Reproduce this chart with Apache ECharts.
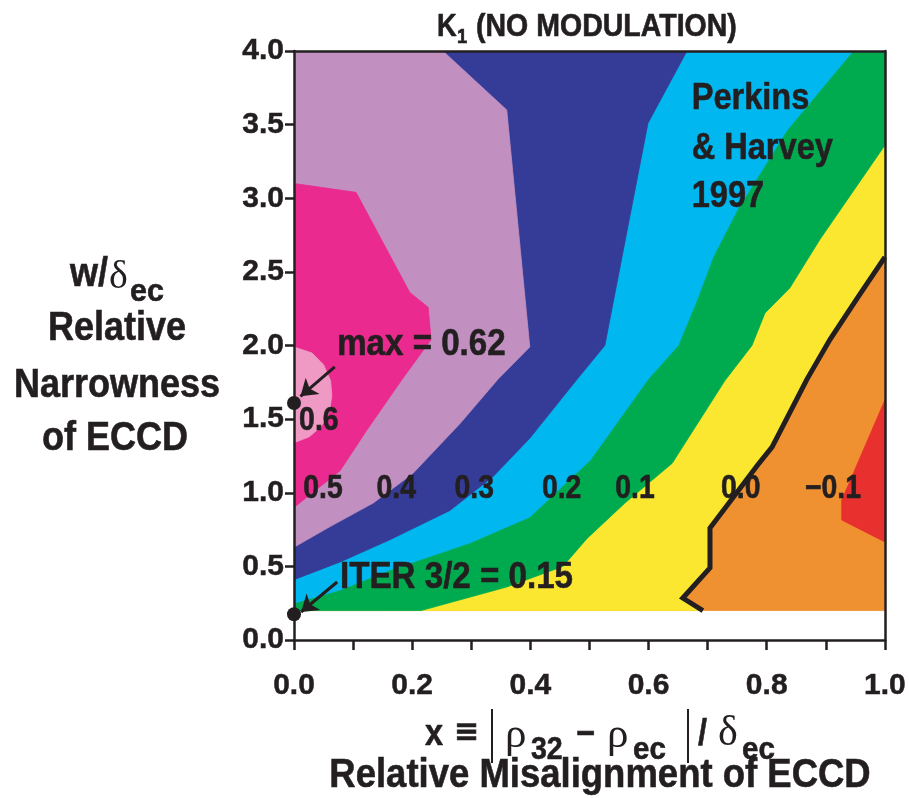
<!DOCTYPE html>
<html>
<head>
<meta charset="utf-8">
<title>K1 (NO MODULATION)</title>
<script src="https://cdn.jsdelivr.net/npm/echarts/dist/echarts.min.js"></script>
<style>
  html, body { margin: 0; padding: 0; background: #ffffff; }
  #chart { width: 909px; height: 798px; }
</style>
</head>
<body>
<div id="chart"></div>
<script>
// ---- K1 contour data: x = misalignment, y = w/δec ----
const levels = [-0.1, 0.0, 0.1, 0.2, 0.3, 0.4, 0.5, 0.6];
const xTicks = [0.0, 0.2, 0.4, 0.6, 0.8, 1.0];
const yTicks = [0.0, 0.5, 1.0, 1.5, 2.0, 2.5, 3.0, 3.5, 4.0];
const yFloor = 0.2;               // lowest w/δec computed

// level curves, each running from the upper/right boundary to the lower/left one
const contourM01 = [[1.0, 1.63], [0.927, 0.95], [0.927, 0.815], [1.0, 0.666]];
const contour00 = [[1.0, 2.60], [0.953, 2.32], [0.907, 2.04], [0.868, 1.77], [0.809, 1.31], [0.785, 1.19],
                   [0.704, 0.76], [0.704, 0.49], [0.658, 0.285], [0.692, 0.2]];
const contour01 = [[1.0, 3.36], [0.89, 2.72], [0.839, 2.39], [0.797, 2.22], [0.775, 2.0], [0.729, 1.76],
                   [0.64, 1.2], [0.56, 0.93], [0.496, 0.69], [0.455, 0.5], [0.36, 0.36], [0.215, 0.2]];
const contour02 = [[0.946, 4.0], [0.834, 3.46], [0.75, 2.92], [0.709, 2.6], [0.682, 2.31], [0.65, 2.0],
                   [0.599, 1.77], [0.501, 1.22], [0.399, 0.835], [0.298, 0.66], [0.162, 0.475], [0.078, 0.34], [0.0, 0.25]];
const contour03 = [[0.665, 4.0], [0.599, 3.51], [0.526, 2.0], [0.479, 1.77], [0.399, 1.37], [0.337, 1.11],
                   [0.264, 0.88], [0.162, 0.68], [0.078, 0.53], [0.0, 0.41]];
const contour04 = [[0.252, 4.0], [0.36, 3.6], [0.399, 1.99], [0.345, 1.77], [0.281, 1.47], [0.201, 1.13],
                   [0.134, 0.93], [0.061, 0.77], [0.0, 0.63]];
const contour05 = [[0.0, 3.10], [0.105, 3.04], [0.196, 2.36], [0.227, 2.26], [0.232, 2.04], [0.183, 1.77],
                   [0.124, 1.43], [0.078, 1.15], [0.0, 0.90]];
const contour06 = [[0.0, 1.99], [0.03, 1.95], [0.05, 1.87], [0.062, 1.76], [0.064, 1.66], [0.06, 1.55],
                   [0.046, 1.45], [0.026, 1.38], [0.0, 1.34]];

// where each level's number is printed (same order as labelLevels)
const labelLevels = [0.6, 0.5, 0.4, 0.3, 0.2, 0.1, 0.0, -0.1];
const labelAt = [[0.042, 1.49], [0.049, 1.025], [0.173, 1.025], [0.305, 1.025], [0.453, 1.025],
                 [0.577, 1.025], [0.756, 1.025], [0.912, 1.025]];

// marked cases
const maxK = 0.62, maxPoint = [0.0, 1.61];
const iterK = 0.15, iterPoint = [0.0, 0.175];
const maxArrow = [[0.069, 1.855], [0.011, 1.655]];
const iterArrow = [[0.073, 0.394], [0.012, 0.19]];

// ---- styling ----
const INK = '#231f20';
const FONT = "'Liberation Sans', Arial, Helvetica, sans-serif";
const SERIF = "'Liberation Serif', 'DejaVu Serif', serif";
const colors = {
  red: '#e8302f', orange: '#ef9130', yellow: '#fbe72f', green: '#00ab4f',
  cyan: '#00b8ef', blue: '#353c97', lilac: '#c190c1', magenta: '#ea2a8f', pink: '#ef99c5'
};

const X0 = 0, X1 = 1, Y1 = 4;
// filled bands, painted low to high: each polygon is the region where K is at least its level
const regions = [
  { color: colors.orange, pts: [[X0, yFloor], [X1, yFloor], [X1, Y1], [X0, Y1]] },
  { color: colors.red, pts: contourM01 },
  { color: colors.yellow, pts: contour00.concat([[X0, yFloor], [X0, Y1], [X1, Y1]]) },
  { color: colors.green, pts: contour01.concat([[X0, yFloor], [X0, Y1], [X1, Y1]]) },
  { color: colors.cyan, pts: contour02.concat([[X0, Y1]]) },
  { color: colors.blue, pts: contour03.concat([[X0, Y1]]) },
  { color: colors.lilac, pts: contour04.concat([[X0, Y1]]) },
  { color: colors.magenta, pts: contour05 },
  { color: colors.pink, pts: contour06 }
];

function fmtLevel(v) {
  return (v < 0 ? '\u2212' : '') + Math.abs(v).toFixed(1);
}

// texts placed in data space
const plotTexts = labelLevels.map((lv, i) => ({
  text: fmtLevel(lv), at: labelAt[i], size: 33, sx: 0.86, align: 'center'
})).concat([
  { text: 'max = ' + maxK.toFixed(2), at: [0.073, 2.0], size: 36, sx: 0.92, align: 'left' },
  { text: 'ITER 3/2 = ' + iterK.toFixed(2), at: [0.078, 0.42], size: 36, sx: 0.92, align: 'left' },
  { text: 'Perkins', at: [0.673, 3.674], size: 37, sx: 0.88, align: 'left' },
  { text: '& Harvey', at: [0.673, 3.334], size: 37, sx: 0.88, align: 'left' },
  { text: '1997', at: [0.673, 3.008], size: 37, sx: 0.88, align: 'left' }
]);

// slight outline gives the heavy condensed look of the lettering
const HEAVY = 0.6;

function txt(x, y, text, opts) {
  opts = opts || {};
  const size = opts.size || 36;
  const weight = opts.weight || 'bold';
  const family = opts.family || FONT;
  const align = opts.align || 'left';
  const heavy = weight === 'bold' ? HEAVY : 0;
  return {
    type: 'text', x: x, y: y, scaleX: opts.sx || 1, scaleY: 1, z: 100,
    style: {
      text: text, x: 0, y: 0,
      font: weight + ' ' + size + 'px ' + family,
      fill: INK, stroke: heavy ? INK : null, lineWidth: heavy,
      align: align, textAlign: align,
      verticalAlign: 'middle', textVerticalAlign: 'middle'
    }
  };
}

// page-level titles
const graphics = [
  // title
  txt(437, 27, 'K', { size: 31, sx: 0.88 }),
  txt(457, 37, '1', { size: 21, sx: 0.88 }),
  txt(476, 27, '(NO MODULATION)', { size: 31, sx: 0.92 }),
  // y-axis title
  txt(70, 275, 'w/', { size: 40, sx: 0.9 }),
  txt(109, 277, '\u03b4', { size: 40, weight: 'normal', family: SERIF }),
  txt(130, 292, 'ec', { size: 32, sx: 0.95 }),
  txt(117, 329, 'Relative', { size: 40, sx: 0.9, align: 'center' }),
  txt(117, 386, 'Narrowness', { size: 40, sx: 0.9, align: 'center' }),
  txt(115, 439, 'of ECCD', { size: 40, sx: 0.9, align: 'center' }),
  // x-axis title, formula line
  txt(425, 735, 'x', { size: 36, sx: 0.9 }),
  txt(454, 733, '\u2261', { size: 30, family: "'DejaVu Sans', " + FONT }),
  txt(505, 736, '\u03c1', { size: 43, weight: 'normal', family: SERIF }),
  txt(531, 750, '32', { size: 31, sx: 0.92 }),
  txt(576, 735, '\u2212', { size: 36, sx: 0.9 }),
  txt(607, 736, '\u03c1', { size: 43, weight: 'normal', family: SERIF }),
  txt(633, 750, 'ec', { size: 31, sx: 0.95 }),
  txt(698, 735, '/', { size: 36, sx: 0.9 }),
  txt(718, 734, '\u03b4', { size: 42, weight: 'normal', family: SERIF }),
  txt(742, 750, 'ec', { size: 31, sx: 0.95 }),
  { type: 'line', z: 100, shape: { x1: 492, y1: 709, x2: 492, y2: 763 }, style: { stroke: INK, lineWidth: 2 } },
  { type: 'line', z: 100, shape: { x1: 688, y1: 709, x2: 688, y2: 763 }, style: { stroke: INK, lineWidth: 2 } },
  // x-axis title, second line
  txt(600, 776, 'Relative Misalignment of ECCD', { size: 41, sx: 0.89, align: 'center' })
];

const axisLineStyle = { color: INK, width: 2.5 };
const labelFont = { color: INK, fontFamily: FONT, fontWeight: 'bold', fontSize: 30,
                    textBorderColor: INK, textBorderWidth: 0.5 };

const option = {
  animation: false,
  backgroundColor: '#ffffff',
  grid: { left: 294, top: 51, width: 591, height: 589, show: false, containLabel: false },
  xAxis: [
    {
      type: 'value', min: X0, max: X1, interval: 0.1, position: 'bottom', z: 10,
      axisLine: { show: true, onZero: false, lineStyle: axisLineStyle },
      axisTick: { show: true, inside: false, length: 10, lineStyle: axisLineStyle },
      axisLabel: Object.assign({
        margin: 31,
        formatter: v => {
          const t = xTicks.find(k => Math.abs(k - v) < 1e-6);
          return t === undefined ? '' : t.toFixed(1);
        }
      }, labelFont),
      splitLine: { show: false }
    },
    {
      type: 'value', min: X0, max: X1, position: 'top', z: 10,
      axisLine: { show: true, onZero: false, lineStyle: axisLineStyle },
      axisTick: { show: false }, axisLabel: { show: false }, splitLine: { show: false }
    }
  ],
  yAxis: [
    {
      type: 'value', min: 0, max: Y1, interval: 0.5, position: 'left', z: 10,
      axisLine: { show: true, onZero: false, lineStyle: axisLineStyle },
      axisTick: { show: true, inside: false, length: 9, lineStyle: axisLineStyle },
      axisLabel: Object.assign({
        margin: 10,
        formatter: v => {
          const t = yTicks.find(k => Math.abs(k - v) < 1e-6);
          return t === undefined ? '' : t.toFixed(1);
        }
      }, labelFont),
      splitLine: { show: false }
    },
    {
      type: 'value', min: 0, max: Y1, position: 'right', z: 10,
      axisLine: { show: true, onZero: false, lineStyle: axisLineStyle },
      axisTick: { show: false }, axisLabel: { show: false }, splitLine: { show: false }
    }
  ],
  graphic: { elements: graphics },
  series: [
    {
      // filled contour bands
      type: 'custom', name: 'bands', coordinateSystem: 'cartesian2d',
      xAxisIndex: 0, yAxisIndex: 0, clip: true, silent: true, z: 1,
      data: regions.map((r, i) => [0.5, 2, i]),
      encode: { x: 0, y: 1 },
      renderItem: (params, api) => {
        const r = regions[params.dataIndex];
        return {
          type: 'polygon',
          shape: { points: r.pts.map(p => api.coord(p)) },
          style: { fill: r.color, stroke: r.color, lineWidth: 0.8 }
        };
      }
    },
    {
      // K1 = 0 contour
      type: 'line', name: 'K1 = 0', data: contour00, xAxisIndex: 0, yAxisIndex: 0,
      showSymbol: false, symbol: 'none', smooth: false, z: 4, silent: true, clip: false,
      lineStyle: { color: INK, width: 5, join: 'miter', cap: 'butt' }
    },
    {
      type: 'lines', name: 'arrows', coordinateSystem: 'cartesian2d', xAxisIndex: 0, yAxisIndex: 0,
      polyline: false, silent: true, z: 6,
      symbol: ['none', 'arrow'], symbolSize: [1, 16],
      lineStyle: { color: INK, width: 3, opacity: 1, curveness: 0 },
      data: [{ coords: maxArrow }, { coords: iterArrow }]
    },
    {
      type: 'scatter', name: 'cases', data: [maxPoint, iterPoint], xAxisIndex: 0, yAxisIndex: 0,
      symbol: 'circle', symbolSize: 14, clip: false, silent: true, z: 7,
      itemStyle: { color: INK, opacity: 1 }
    },
    {
      // level numbers and notes
      type: 'custom', name: 'texts', coordinateSystem: 'cartesian2d',
      xAxisIndex: 0, yAxisIndex: 0, clip: false, silent: true, z: 8,
      data: plotTexts.map(t => t.at),
      encode: { x: 0, y: 1 },
      renderItem: (params, api) => {
        const t = plotTexts[params.dataIndex];
        const p = api.coord(t.at);
        return {
          type: 'text', x: p[0], y: p[1], scaleX: t.sx, scaleY: 1,
          style: {
            text: t.text, x: 0, y: 0,
            font: 'bold ' + t.size + 'px ' + FONT,
            fill: INK, stroke: INK, lineWidth: HEAVY,
            align: t.align, textAlign: t.align,
            verticalAlign: 'middle', textVerticalAlign: 'middle'
          }
        };
      }
    }
  ]
};

const chart = echarts.init(document.getElementById('chart'), null, { renderer: 'canvas', width: 909, height: 798 });
chart.setOption(option);
</script>
</body>
</html>
